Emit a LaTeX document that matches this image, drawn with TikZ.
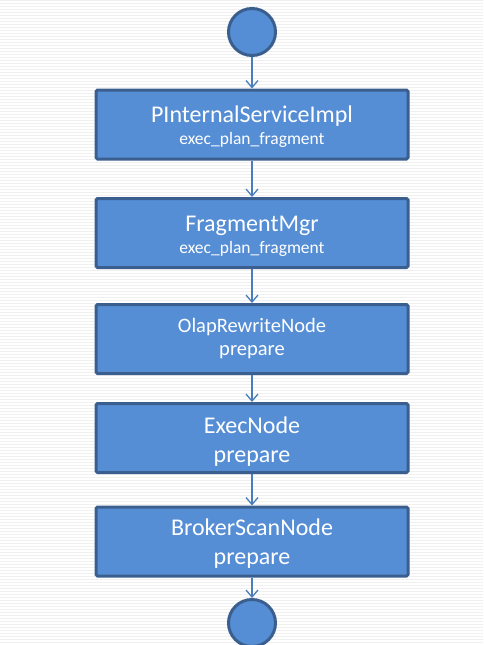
\documentclass[tikz,border=0pt]{standalone}
\usepackage{fontspec}
\setmainfont{Carlito}
\usetikzlibrary{arrows.meta}
\definecolor{boxfill}{HTML}{558ED5}
\definecolor{boxedge}{HTML}{3A5F8E}
\definecolor{arrowc}{HTML}{4A7EBB}
\tikzset{
  stepbox/.style={draw=boxedge, line width=3pt, fill=boxfill, rounded corners=1.5pt,
    minimum width=312pt, minimum height=69pt, inner sep=0pt},
  endpoint/.style={circle, draw=boxedge, line width=3pt, fill=boxfill, minimum size=47pt, inner sep=0pt},
  flow/.style={draw=arrowc, line width=1.3pt, -{Straight Barb[length=7pt,width=12pt,line width=1.3pt]}},
  lbl/.style={text=white, anchor=base, inner sep=0pt},
  big/.style={lbl, font=\fontsize{24}{28}\selectfont},
  mid/.style={lbl, font=\fontsize{20.5}{24}\selectfont},
  small/.style={lbl, font=\fontsize{17.5}{20}\selectfont},
}
\begin{document}
\begin{tikzpicture}[x=1pt,y=-1pt]
\useasboundingbox (0,0) rectangle (483,645);
\fill[white] (0,0) rectangle (483,645);
\foreach \k in {0,...,214} {
  \fill[black!6] (0,{\k*3}) rectangle (483,{\k*3+1});
}
\node[endpoint] (start) at (252,32) {};
\node[stepbox] (b1) at (252,124.5) {};
\node[stepbox] (b2) at (252,233) {};
\node[stepbox] (b3) at (252,339) {};
\node[stepbox] (b4) at (252,438) {};
\node[stepbox] (b5) at (252,541.5) {};
\node[endpoint] (stop) at (252,623) {};
\node[big] (b1a) at ([yshift=2.5pt]b1.center) {PInternalServiceImpl};
\node[small] (b1b) at ([yshift=-19.5pt]b1.center) {exec\_plan\_fragment};
\node[big] (b2a) at ([yshift=2pt]b2.center) {FragmentMgr};
\node[small] (b2b) at ([yshift=-20pt]b2.center) {exec\_plan\_fragment};
\node[mid] (b3a) at ([yshift=7pt]b3.center) {OlapRewriteNode};
\node[mid] (b3b) at ([yshift=-16pt]b3.center) {prepare};
\node[big] (b4a) at ([yshift=4.5pt]b4.center) {ExecNode};
\node[big] (b4b) at ([yshift=-24.5pt]b4.center) {prepare};
\node[big] (b5a) at ([yshift=6pt]b5.center) {BrokerScanNode};
\node[big] (b5b) at ([yshift=-23pt]b5.center) {prepare};
\draw[flow] (start) -- (b1);
\draw[flow] (b1) -- (b2);
\draw[flow] (b2) -- (b3);
\draw[flow] (b3) -- (b4);
\draw[flow] (b4) -- (b5);
\draw[flow] (b5) -- (stop.north);
\end{tikzpicture}
\end{document}
